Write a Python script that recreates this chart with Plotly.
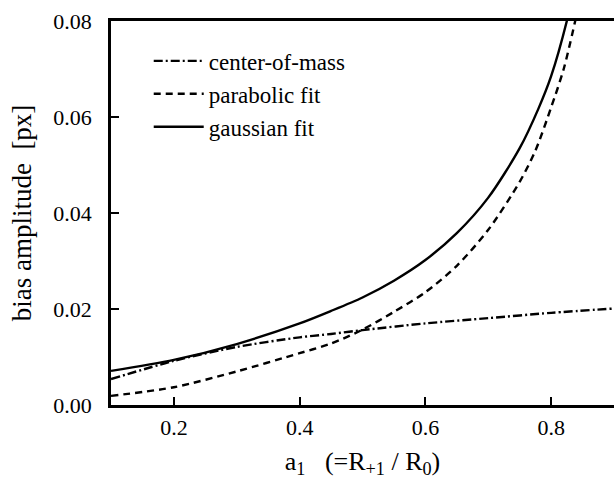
import plotly.graph_objects as go

# data
a_com = [0.1, 0.2, 0.3, 0.4, 0.45, 0.5, 0.6, 0.7, 0.8, 0.9]
y_com = [0.0054, 0.0092, 0.0121, 0.0141, 0.0148, 0.0156, 0.0170, 0.0181, 0.0192, 0.0201]

a_par = [0.1, 0.2, 0.3, 0.4, 0.45, 0.5, 0.55, 0.6, 0.65, 0.7, 0.75, 0.775, 0.8, 0.82, 0.84]
y_par = [0.0019, 0.0037, 0.0070, 0.0108, 0.0128, 0.0157, 0.0194, 0.0235, 0.0290, 0.0365, 0.0465, 0.0530, 0.0620, 0.0700, 0.0810]

a_gau = [0.1, 0.2, 0.3, 0.4, 0.45, 0.5, 0.55, 0.6, 0.65, 0.7, 0.75, 0.78, 0.8, 0.825, 0.83]
y_gau = [0.0071, 0.0094, 0.0127, 0.0170, 0.0196, 0.0224, 0.0259, 0.0302, 0.0358, 0.0432, 0.0535, 0.0618, 0.0685, 0.0800, 0.0830]

series_names = ["center-of-mass", "parabolic fit", "gaussian fit"]
x_ticks = [0.2, 0.4, 0.6, 0.8]
y_ticks = [0.00, 0.02, 0.04, 0.06, 0.08]
x_ticklabels = ["0.2", "0.4", "0.6", "0.8"]
y_ticklabels = ["0.00", "0.02", "0.04", "0.06", "0.08"]

FONT = 'Liberation Serif, "Times New Roman", Times, serif'

fig = go.Figure()
fig.add_trace(go.Scatter(x=a_com, y=y_com, mode="lines", name=series_names[0],
                         line=dict(color="black", width=2.4, dash="9px,3px,2px,3px", shape="spline", smoothing=0.8)))
fig.add_trace(go.Scatter(x=a_par, y=y_par, mode="lines", name=series_names[1],
                         line=dict(color="black", width=2.4, dash="7px,5px", shape="spline", smoothing=0.8)))
fig.add_trace(go.Scatter(x=a_gau, y=y_gau, mode="lines", name=series_names[2],
                         line=dict(color="black", width=2.4, shape="spline", smoothing=0.8)))

fig.update_layout(
    width=614, height=482,
    margin=dict(l=111, r=0, t=21, b=77),
    paper_bgcolor="white", plot_bgcolor="white",
    font=dict(family=FONT, size=22, color="black"),
    showlegend=True,
    legend=dict(x=0.075, y=0.952, xanchor="left", yanchor="top",
                bgcolor="rgba(0,0,0,0)", font=dict(family=FONT, size=23),
                tracegroupgap=0, itemwidth=50),
)
fig.update_xaxes(
    range=[0.1, 0.9], tickvals=x_ticks, ticktext=x_ticklabels,
    ticks="inside", ticklen=8, tickwidth=2, tickcolor="black",
    showline=True, linecolor="black", linewidth=2.5, mirror=True,
    showgrid=False, zeroline=False,
    title=dict(text="a<sub>1</sub>   (=R<sub>+1</sub> / R<sub>0</sub>)", font=dict(family=FONT, size=26), standoff=13),
    tickfont=dict(family=FONT, size=22), ticklabelstandoff=1,
)
fig.update_yaxes(
    range=[0, 0.08], tickvals=y_ticks, ticktext=y_ticklabels,
    ticks="inside", ticklen=8, tickwidth=2, tickcolor="black",
    showline=True, linecolor="black", linewidth=2.5, mirror=False,
    showgrid=False, zeroline=False,
    title=dict(text="bias amplitude  [px]", font=dict(family=FONT, size=27), standoff=14),
    tickfont=dict(family=FONT, size=22), ticklabelstandoff=12,
)

fig.write_html("out.html")
